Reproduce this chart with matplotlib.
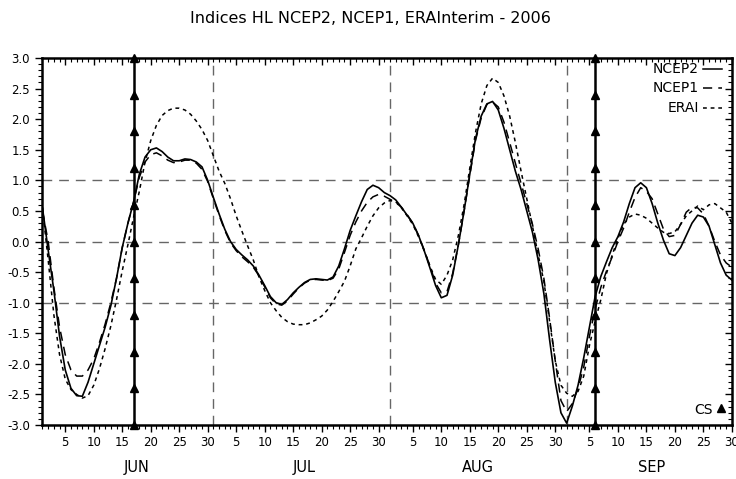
#!/usr/bin/env python3
"""Indices HL diarios (NCEP2, NCEP1, ERA-Interim), junio-septiembre 2006."""

import numpy as np
import pandas as pd
import matplotlib
matplotlib.use("Agg")
import matplotlib.pyplot as plt
import matplotlib.dates as mdates
from matplotlib.ticker import MultipleLocator, NullFormatter

FONT = "DejaVu Sans"
plt.rcParams["font.family"] = FONT

# Serie diaria 1 jun - 30 sep 2006
dates = pd.date_range("2006-06-01", "2006-09-30", freq="D")

ncep2 = [
    0.55, -0.14, -0.80, -1.55, -2.10, -2.40, -2.52, -2.53, -2.30, -2.00,
    -1.70, -1.40, -1.05, -0.60, -0.10, 0.30, 0.65, 1.10, 1.38, 1.50,
    1.53, 1.47, 1.38, 1.32, 1.32, 1.35, 1.34, 1.30, 1.22, 1.00,
    0.72, 0.45, 0.20, 0.00, -0.13, -0.22, -0.30, -0.40, -0.55, -0.72,
    -0.90, -1.00, -1.03, -0.95, -0.84, -0.75, -0.67, -0.62, -0.61, -0.62,
    -0.63, -0.58, -0.40, -0.12, 0.18, 0.42, 0.65, 0.85, 0.92, 0.88,
    0.80, 0.75, 0.68, 0.56, 0.43, 0.30, 0.10, -0.15, -0.43, -0.72,
    -0.92, -0.88, -0.55, -0.05, 0.50, 1.10, 1.68, 2.05, 2.25, 2.29,
    2.15, 1.85, 1.50, 1.15, 0.85, 0.50, 0.15, -0.30, -0.85, -1.60,
    -2.30, -2.80, -2.97, -2.69, -2.35, -1.90, -1.40, -0.90, -0.57, -0.33,
    -0.10, 0.08, 0.32, 0.62, 0.88, 0.96, 0.88, 0.62, 0.30, 0.02,
    -0.20, -0.23, -0.10, 0.10, 0.30, 0.43, 0.40, 0.25, -0.05, -0.35,
    -0.55, -0.63,
]

ncep1 = [
    0.50, 0.00, -0.75, -1.40, -1.85, -2.10, -2.20, -2.20, -2.10, -1.92,
    -1.65, -1.35, -1.00, -0.60, -0.10, 0.30, 0.65, 1.05, 1.30, 1.42,
    1.45, 1.40, 1.33, 1.29, 1.30, 1.33, 1.33, 1.28, 1.18, 0.98,
    0.70, 0.43, 0.18, -0.02, -0.15, -0.25, -0.33, -0.42, -0.56, -0.74,
    -0.92, -1.02, -1.04, -0.97, -0.86, -0.76, -0.68, -0.63, -0.62, -0.63,
    -0.64, -0.60, -0.45, -0.18, 0.10, 0.32, 0.50, 0.64, 0.73, 0.77,
    0.74, 0.69, 0.64, 0.56, 0.44, 0.30, 0.10, -0.14, -0.40, -0.68,
    -0.84, -0.82, -0.52, -0.05, 0.50, 1.08, 1.65, 2.02, 2.24, 2.28,
    2.20, 1.95, 1.62, 1.28, 0.95, 0.62, 0.28, -0.12, -0.60, -1.25,
    -1.95, -2.60, -2.78, -2.65, -2.40, -2.05, -1.55, -1.10, -0.75, -0.48,
    -0.25, 0.00, 0.22, 0.48, 0.72, 0.88, 0.82, 0.70, 0.45, 0.20,
    0.08, 0.10, 0.28, 0.48, 0.56, 0.55, 0.45, 0.25, 0.00, -0.22,
    -0.35, -0.42,
]

erai = [
    0.55, -0.30, -1.20, -1.85, -2.25, -2.42, -2.50, -2.56, -2.52, -2.35,
    -2.08, -1.75, -1.38, -0.95, -0.48, -0.05, 0.40, 0.82, 1.30, 1.65,
    1.90, 2.06, 2.14, 2.18, 2.18, 2.15, 2.08, 1.97, 1.83, 1.65,
    1.40, 1.15, 0.95, 0.70, 0.42, 0.17, -0.07, -0.30, -0.58, -0.80,
    -1.00, -1.13, -1.24, -1.31, -1.35, -1.36, -1.36, -1.33, -1.28, -1.22,
    -1.12, -0.98, -0.82, -0.65, -0.40, -0.12, 0.06, 0.25, 0.42, 0.55,
    0.63, 0.67, 0.65, 0.55, 0.42, 0.28, 0.08, -0.15, -0.40, -0.62,
    -0.70, -0.55, -0.30, 0.10, 0.60, 1.20, 1.78, 2.25, 2.55, 2.67,
    2.60, 2.38, 2.05, 1.62, 1.15, 0.70, 0.25, -0.22, -0.65, -1.30,
    -1.95, -2.35, -2.48, -2.53, -2.45, -2.20, -1.70, -1.30, -0.95, -0.52,
    -0.22, 0.05, 0.28, 0.40, 0.45, 0.43, 0.38, 0.30, 0.22, 0.15,
    0.13, 0.16, 0.28, 0.42, 0.50, 0.58, 0.52, 0.60, 0.62, 0.55,
    0.48, 0.30,
]

# Fechas con CS (cambio de signo) y su escala de triangulos
cs_dates = ["2006-06-17", "2006-09-06"]
cs_levels = [-3.0, -2.4, -1.8, -1.2, -0.6, 0.0, 0.6, 1.2, 1.8, 2.4, 3.0]

months = ["JUN", "JUL", "AUG", "SEP"]
month_starts = ["2006-07-01", "2006-08-01", "2006-09-01"]
month_label_days = ["2006-06-17 12:00", "2006-07-17", "2006-08-16 12:00", "2006-09-16"]

GRID = "#666666"

fig = plt.figure(figsize=(7.36, 4.79), dpi=100)
ax = fig.add_axes([0.0577, 0.1127, 0.9367, 0.7662])

for lvl in (-1.0, 0.0, 1.0):
    ax.axhline(lvl, color=GRID, lw=1.0, dashes=(7, 5), zorder=1)
for ms in month_starts:
    ax.axvline(pd.Timestamp(ms), color=GRID, lw=1.0, dashes=(7, 5), zorder=1)

for d in cs_dates:
    t = pd.Timestamp(d)
    ax.plot([t] * len(cs_levels), cs_levels, color="black", lw=1.8,
            marker="^", ms=5.5, clip_on=False, zorder=3)

ax.plot(dates, ncep2, color="black", lw=1.2, zorder=4)
ax.plot(dates, ncep1, color="black", lw=1.1, dashes=(6, 4), zorder=4)
ax.plot(dates, erai, color="black", lw=1.1, dashes=(2.5, 2.5), zorder=4)

ax.set_xlim(dates[0], dates[-1])
ax.set_ylim(-3.0, 3.0)

ax.xaxis.set_major_locator(mdates.DayLocator(bymonthday=[5, 10, 15, 20, 25, 30]))
ax.xaxis.set_minor_locator(mdates.DayLocator())
ax.xaxis.set_major_formatter(mdates.DateFormatter("%-d"))
ax.yaxis.set_major_locator(MultipleLocator(0.5))
ax.yaxis.set_minor_locator(MultipleLocator(0.1))
ax.yaxis.set_major_formatter(plt.FuncFormatter(lambda v, p: f"{v:.1f}"))

ax.tick_params(which="major", direction="out", length=5, width=1.0,
               labelsize=8.5, pad=4, top=False, right=False)
ax.tick_params(which="minor", direction="out", length=3, width=0.8,
               top=False, right=False)
ax.tick_params(axis="x", which="major", pad=3)

top = ax.secondary_xaxis("top")
top.xaxis.set_major_locator(mdates.DayLocator(bymonthday=[5, 10, 15, 20, 25, 30]))
top.xaxis.set_minor_locator(mdates.DayLocator())
top.xaxis.set_major_formatter(NullFormatter())
top.tick_params(which="major", direction="in", length=5, width=1.0)
top.tick_params(which="minor", direction="in", length=3, width=0.8)

right = ax.secondary_yaxis("right")
right.yaxis.set_major_locator(MultipleLocator(0.5))
right.yaxis.set_minor_locator(MultipleLocator(0.1))
right.yaxis.set_major_formatter(NullFormatter())
right.tick_params(which="major", direction="in", length=5, width=1.0)
right.tick_params(which="minor", direction="in", length=3, width=0.8)

for sec in (top, right):
    for sp in sec.spines.values():
        sp.set_visible(False)
for sp in ax.spines.values():
    sp.set_linewidth(1.8)
    sp.set_zorder(5)

# Meses bajo el eje
xtrans = ax.get_xaxis_transform()
for name, md in zip(months, month_label_days):
    ax.text(pd.Timestamp(md), -0.115, name, transform=xtrans,
            ha="center", va="center", fontsize=10.5)

# Leyenda a mano, estilo GrADS
leg = [("NCEP2", None), ("NCEP1", (6, 4)), ("ERAI", (2.5, 2.5))]
for i, (lab, dsh) in enumerate(leg):
    yy = 0.97 - i * 0.053
    ax.text(0.952, yy, lab, transform=ax.transAxes, ha="right", va="center",
            fontsize=10)
    kw = {"dashes": dsh} if dsh else {}
    ax.plot([0.958, 0.985], [yy, yy], transform=ax.transAxes, color="black",
            lw=1.1, **kw)

ax.text(0.972, 0.042, "CS", transform=ax.transAxes, ha="right", va="center",
        fontsize=10)
ax.plot([0.984], [0.047], transform=ax.transAxes, marker="^", ms=5.5,
        color="black", clip_on=False)

fig.text(0.503, 0.962, "Indices HL NCEP2, NCEP1, ERAInterim - 2006",
         ha="center", va="center", fontsize=11.5)

fig.savefig("out.png", dpi=100)
